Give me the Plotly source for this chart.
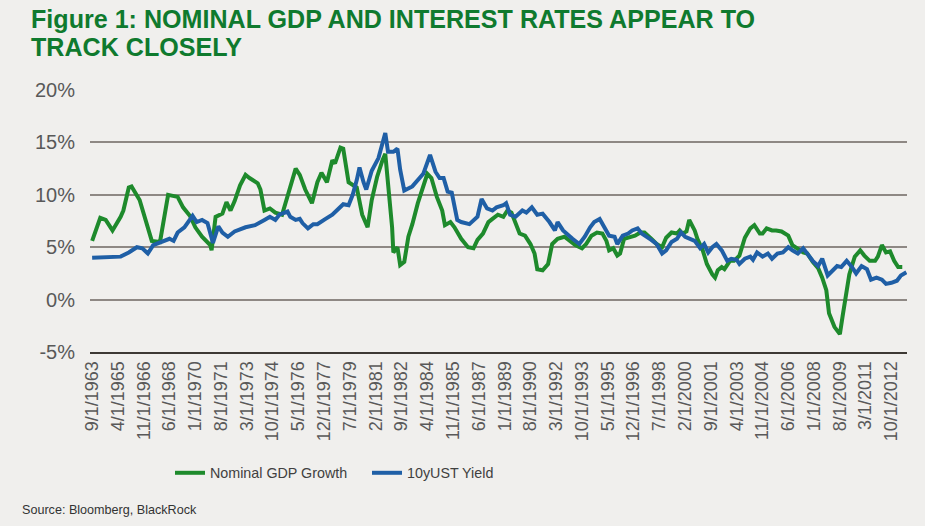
import plotly.graph_objects as go

# ---------------- data ----------------
gdp_dates = ["1963-09", "1964-03", "1964-07", "1964-12", "1965-06", "1965-08", "1965-12", "1966-02",
             "1966-08", "1966-12", "1967-05", "1967-11", "1968-05", "1968-12", "1969-04", "1969-09",
             "1970-01", "1970-06", "1970-12", "1971-01", "1971-04", "1971-09", "1971-12", "1972-03",
             "1972-06", "1972-10", "1973-02", "1973-05", "1973-11", "1974-01", "1974-04", "1974-08",
             "1974-12", "1975-05", "1975-09", "1975-12", "1976-03", "1976-06", "1976-10", "1977-03",
             "1977-07", "1977-10", "1978-02", "1978-06", "1978-08", "1978-12", "1979-02", "1979-06",
             "1979-09", "1979-12", "1980-04", "1980-08", "1980-11", "1981-03", "1981-07", "1981-09",
             "1981-11", "1982-02", "1982-03", "1982-06", "1982-08", "1982-11", "1983-02", "1983-05",
             "1983-09", "1984-01", "1984-04", "1984-07", "1984-11", "1985-03", "1985-05", "1985-09",
             "1985-12", "1986-05", "1986-10", "1987-02", "1987-05", "1987-09", "1988-01", "1988-04",
             "1988-08", "1988-12", "1989-03", "1989-06", "1989-10", "1989-12", "1990-04", "1990-08",
             "1990-11", "1991-01", "1991-05", "1991-09", "1991-12", "1992-04", "1992-09", "1993-01",
             "1993-05", "1993-10", "1994-01", "1994-05", "1994-09", "1995-01", "1995-04", "1995-06",
             "1995-09", "1995-12", "1996-02", "1996-05", "1996-09", "1997-01", "1997-05", "1997-08",
             "1998-01", "1998-05", "1998-09", "1998-12", "1999-04", "1999-08", "1999-10", "1999-12",
             "2000-03", "2000-05", "2000-09", "2000-11", "2001-03", "2001-06", "2001-10", "2001-12",
             "2002-02", "2002-05", "2002-07", "2002-11", "2003-02", "2003-06", "2003-10", "2004-02",
             "2004-05", "2004-09", "2004-11", "2005-02", "2005-06", "2005-09", "2006-01", "2006-06",
             "2006-09", "2007-01", "2007-05", "2007-08", "2007-12", "2008-04", "2008-07", "2008-10",
             "2008-12", "2009-04", "2009-08", "2009-10", "2010-01", "2010-03", "2010-07", "2010-11",
             "2011-02", "2011-06", "2011-10", "2011-12", "2012-03", "2012-06", "2012-09", "2012-12",
             "2013-03", "2013-06"]
gdp_values = [5.6, 7.8, 7.6, 6.6, 7.9, 8.5, 10.7, 10.8,
              9.5, 7.6, 5.6, 5.5, 10.0, 9.8, 8.8, 8.0,
              6.9, 6.0, 5.2, 4.7, 7.9, 8.2, 9.3, 8.5,
              9.4, 10.9, 11.9, 11.6, 11.1, 10.5, 8.5, 8.7,
              8.3, 8.1, 9.8, 11.3, 12.5, 11.9, 10.5, 9.2,
              11.2, 12.1, 11.2, 13.3, 13.0, 14.5, 14.4, 11.2,
              10.9, 10.7, 8.1, 6.9, 9.5, 11.7, 13.3, 13.9,
              11.1, 6.9, 4.5, 5.0, 3.3, 3.6, 6.0, 7.2,
              9.2, 10.9, 12.0, 11.6, 9.8, 8.5, 7.1, 7.4,
              6.9, 5.8, 5.0, 4.9, 5.7, 6.3, 7.4, 7.7,
              8.1, 7.9, 8.5, 8.3, 6.9, 6.3, 6.1, 5.3,
              4.4, 2.9, 2.8, 3.4, 5.3, 5.8, 6.0, 5.6,
              5.2, 4.9, 5.3, 6.1, 6.4, 6.3, 5.6, 4.7,
              4.9, 4.2, 4.4, 5.8, 6.0, 6.1, 6.4, 6.4,
              5.8, 5.3, 5.0, 5.9, 6.4, 6.3, 6.6, 6.3,
              6.5, 7.6, 6.6, 5.8, 4.7, 3.4, 2.4, 2.1,
              2.8, 3.1, 2.9, 3.7, 3.7, 4.2, 5.9, 6.8,
              7.1, 6.3, 6.3, 6.8, 6.6, 6.6, 6.5, 6.1,
              5.2, 4.9, 4.5, 4.4, 3.6, 3.0, 2.1, 0.9,
              -1.3, -2.6, -3.3, -1.6, 0.9, 2.4, 4.1, 4.7,
              4.2, 3.7, 3.7, 4.1, 5.2, 4.5, 4.6, 3.7,
              3.1, 3.1]

ust_dates = ["1963-09", "1965-06", "1965-12", "1966-06", "1966-10", "1967-02", "1967-06", "1968-01",
             "1968-06", "1968-09", "1968-12", "1969-05", "1969-11", "1970-02", "1970-06", "1970-10",
             "1971-02", "1971-06", "1971-09", "1972-01", "1972-06", "1973-02", "1973-09", "1974-04",
             "1974-08", "1974-12", "1975-03", "1975-09", "1975-11", "1976-03", "1976-06", "1976-08",
             "1976-12", "1977-04", "1977-07", "1978-01", "1978-06", "1978-10", "1979-02", "1979-06",
             "1979-09", "1979-12", "1980-02", "1980-05", "1980-07", "1980-11", "1981-04", "1981-09",
             "1981-11", "1982-03", "1982-06", "1982-08", "1982-11", "1983-05", "1983-09", "1984-01",
             "1984-06", "1984-10", "1985-01", "1985-04", "1985-07", "1985-10", "1986-02", "1986-05",
             "1986-11", "1987-05", "1987-08", "1987-12", "1988-04", "1988-07", "1988-12", "1989-02",
             "1989-05", "1989-09", "1990-02", "1990-05", "1990-09", "1991-01", "1991-05", "1991-10",
             "1992-02", "1992-04", "1992-08", "1992-12", "1993-03", "1993-08", "1993-12", "1994-04",
             "1994-07", "1994-11", "1995-03", "1995-06", "1995-10", "1995-12", "1996-04", "1996-08",
             "1996-11", "1997-03", "1997-06", "1997-10", "1998-01", "1998-05", "1998-09", "1998-12",
             "1999-04", "1999-08", "1999-11", "2000-02", "2000-05", "2000-09", "2001-01", "2001-04",
             "2001-07", "2001-10", "2002-01", "2002-05", "2002-09", "2002-12", "2003-04", "2003-06",
             "2003-10", "2004-02", "2004-04", "2004-07", "2004-11", "2005-03", "2005-06", "2005-10",
             "2006-02", "2006-06", "2006-09", "2007-01", "2007-05", "2007-08", "2007-12", "2008-04",
             "2008-07", "2008-11", "2009-03", "2009-06", "2009-09", "2010-01", "2010-05", "2010-08",
             "2010-12", "2011-04", "2011-07", "2011-11", "2012-03", "2012-06", "2012-10", "2013-02",
             "2013-05", "2013-09"]
ust_values = [4.0, 4.1, 4.5, 5.0, 4.9, 4.4, 5.2, 5.6,
              5.8, 5.6, 6.4, 6.9, 8.0, 7.4, 7.6, 7.3,
              5.4, 7.0, 6.4, 6.0, 6.5, 6.9, 7.1, 7.6,
              7.9, 7.6, 8.1, 8.4, 7.9, 7.6, 7.7, 7.3,
              6.8, 7.2, 7.2, 7.7, 8.1, 8.6, 9.1, 9.0,
              10.0, 11.4, 12.6, 11.2, 10.5, 12.3, 13.5, 15.9,
              14.1, 14.1, 14.4, 12.4, 10.4, 10.8, 11.4, 12.0,
              13.8, 12.2, 11.6, 11.6, 10.3, 10.2, 7.6, 7.4,
              7.2, 7.9, 9.6, 8.7, 8.5, 8.8, 9.0, 9.2,
              8.1, 7.9, 8.5, 8.3, 8.8, 8.1, 8.2, 7.4,
              6.6, 7.4, 6.6, 6.1, 5.8, 5.3, 6.0, 6.9,
              7.4, 7.7, 6.8, 6.1, 6.0, 5.3, 6.1, 6.3,
              6.6, 6.8, 6.3, 6.0, 5.7, 5.3, 4.4, 4.7,
              5.5, 5.8, 6.4, 6.0, 5.8, 5.6, 4.9, 5.3,
              4.5, 5.0, 5.3, 4.7, 3.7, 3.9, 3.8, 3.4,
              3.9, 4.1, 3.8, 4.5, 4.1, 4.4, 3.9, 4.4,
              4.5, 5.0, 4.7, 4.4, 4.9, 4.4, 3.7, 3.2,
              3.9, 2.3, 2.8, 3.2, 3.1, 3.7, 3.1, 2.5,
              3.2, 2.9, 1.9, 2.1, 1.9, 1.5, 1.6, 1.8,
              2.3, 2.6]

tick_dates = ["1963-09-01", "1965-04-01", "1966-11-01", "1968-06-01", "1970-01-01", "1971-08-01",
              "1973-03-01", "1974-10-01", "1976-05-01", "1977-12-01", "1979-07-01", "1981-02-01",
              "1982-09-01", "1984-04-01", "1985-11-01", "1987-06-01", "1989-01-01", "1990-08-01",
              "1992-03-01", "1993-10-01", "1995-05-01", "1996-12-01", "1998-07-01", "2000-02-01",
              "2001-09-01", "2003-04-01", "2004-11-01", "2006-06-01", "2008-01-01", "2009-08-01",
              "2011-03-01", "2012-10-01"]
tick_labels = ["9/1/1963", "4/1/1965", "11/1/1966", "6/1/1968", "1/1/1970", "8/1/1971",
               "3/1/1973", "10/1/1974", "5/1/1976", "12/1/1977", "7/1/1979", "2/1/1981",
               "9/1/1982", "4/1/1984", "11/1/1985", "6/1/1987", "1/1/1989", "8/1/1990",
               "3/1/1992", "10/1/1993", "5/1/1995", "12/1/1996", "7/1/1998", "2/1/2000",
               "9/1/2001", "4/1/2003", "11/1/2004", "6/1/2006", "1/1/2008", "8/1/2009",
               "3/1/2011", "10/1/2012"]

y_tick_values = [-5, 0, 5, 10, 15, 20]
y_tick_labels = ["-5%", "0%", "5%", "10%", "15%", "20%"]

series_names = ["Nominal GDP Growth", "10yUST Yield"]
title_lines = ["Figure 1: NOMINAL GDP AND INTEREST RATES APPEAR TO", "TRACK CLOSELY"]
source_text = "Source: Bloomberg, BlackRock"

# ---------------- styling ----------------
BG = "#f0efed"
GREEN = "#1e8a2c"
BLUE = "#1f5fa6"
TITLE_GREEN = "#0f7a2e"
GRID = "#8e8884"
TEXT = "#595959"
SANS = "Liberation Sans, Arial, sans-serif"

W, H = 925, 526
L, R, T, B = 90, 18, 89, 174
PH = H - T - B
PW = W - L - R


def py(p):
    return 1 + (T - p) / PH


def px(p):
    return (p - L) / PW


fig = go.Figure()
fig.add_trace(go.Scatter(x=gdp_dates, y=gdp_values, mode="lines", name=series_names[0],
                         line=dict(color=GREEN, width=4)))
fig.add_trace(go.Scatter(x=ust_dates, y=ust_values, mode="lines", name=series_names[1],
                         line=dict(color=BLUE, width=4)))

annotations = [
    dict(text="<b>%s</b>" % title_lines[0], x=px(29), y=py(19), xanchor="left", yanchor="middle"),
    dict(text="<b>%s</b>" % title_lines[1], x=px(29), y=py(47), xanchor="left", yanchor="middle"),
]
for a in annotations:
    a.update(xref="paper", yref="paper", showarrow=False,
             font=dict(family=SANS, size=25.1, color=TITLE_GREEN))
annotations.append(dict(text=source_text, x=px(20), y=py(510), xref="paper", yref="paper",
                        xanchor="left", yanchor="middle", showarrow=False,
                        font=dict(family=SANS, size=12.6, color="#333333")))

fig.update_layout(
    width=W, height=H,
    margin=dict(l=L, r=R, t=T, b=B),
    paper_bgcolor=BG, plot_bgcolor=BG,
    showlegend=True,
    legend=dict(orientation="h", x=px(170), y=py(473), xanchor="left", yanchor="middle",
                font=dict(family=SANS, size=14.3, color="#404040"),
                bgcolor="rgba(0,0,0,0)", itemwidth=30, tracegroupgap=0,
                entrywidth=152, entrywidthmode="pixels"),
    annotations=annotations,
    xaxis=dict(type="date", range=["1963-07-15", "2013-09-15"],
               tickmode="array", tickvals=tick_dates, ticktext=tick_labels,
               tickangle=-90, ticks="", showgrid=False, zeroline=False,
               showline=True, linecolor="#3d3934", linewidth=2,
               tickfont=dict(family=SANS, size=18, color=TEXT)),
    yaxis=dict(range=[-5, 20.095], tickmode="array", tickvals=y_tick_values,
               ticktext=y_tick_labels,
               showgrid=True, gridcolor=GRID, gridwidth=1.5, zeroline=False,
               showline=False, ticks="", ticklabelstandoff=14,
               tickfont=dict(family=SANS, size=20, color=TEXT)),
)

fig.write_html(
    "out.html",
    config={"displayModeBar": False},
    post_script="document.body.style.margin='0';document.body.style.background='%s';" % BG,
)
